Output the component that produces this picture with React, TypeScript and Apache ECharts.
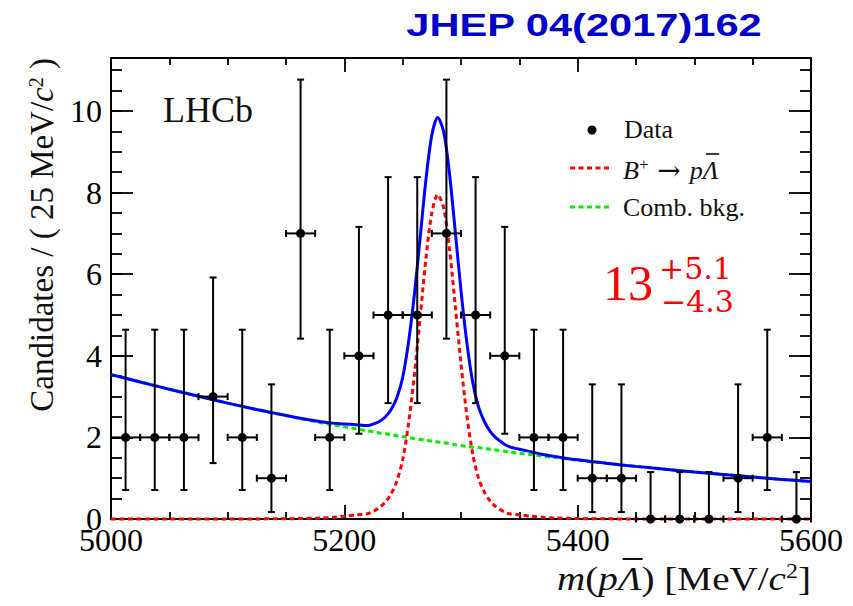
import React, { useEffect, useRef } from 'react';
import * as echarts from 'echarts';

// Binned candidates, 25 MeV/c^2 bins
const binCentres = [
  5012.5, 5037.5, 5062.5, 5087.5, 5112.5, 5137.5, 5162.5, 5187.5,
  5212.5, 5237.5, 5262.5, 5287.5, 5312.5, 5337.5, 5362.5, 5387.5,
  5412.5, 5437.5, 5462.5, 5487.5, 5512.5, 5537.5, 5562.5, 5587.5,
];
const binWidth = 25;
const candidates = [2, 2, 2, 3, 2, 1, 7, 2, 4, 5, 5, 7, 5, 4, 2, 2, 1, 1, 0, 0, 0, 1, 2, 0];
// Poisson interval edges for each bin
const errLower = [
  0.71, 0.71, 0.71, 1.37, 0.71, 0.17, 4.42, 0.71, 2.09, 2.84, 2.84, 4.42,
  2.84, 2.09, 0.71, 0.71, 0.17, 0.17, 0, 0, 0, 0.17, 0.71, 0,
];
const errUpper = [
  4.64, 4.64, 4.64, 5.92, 4.64, 3.3, 10.77, 4.64, 7.16, 8.38, 8.38, 10.77,
  8.38, 7.16, 4.64, 4.64, 3.3, 3.3, 1.15, 1.15, 1.15, 3.3, 4.64, 1.15,
];

// Fit components sampled along the mass axis
const curveMass = [
  5000, 5025, 5050, 5075, 5100, 5125, 5140, 5160, 5180, 5190,
  5200, 5210, 5220, 5225, 5230, 5235, 5240, 5245, 5250, 5255,
  5260, 5265, 5270, 5275, 5280, 5285, 5290, 5295, 5300, 5305,
  5310, 5315, 5320, 5325, 5330, 5340, 5350, 5360, 5370, 5380,
  5400, 5425, 5450, 5475, 5500, 5525, 5550, 5575, 5600,
];
const signalPdf = [
  0, 0, 0, 0, 0, 0.002, 0.005, 0.01, 0.025, 0.04,
  0.07, 0.1, 0.13, 0.19, 0.28, 0.41, 0.61, 0.93, 1.45, 2.33,
  3.52, 4.95, 6.4, 7.5, 7.95, 7.64, 6.65, 5.25, 3.8, 2.55,
  1.6, 1.0, 0.66, 0.44, 0.3, 0.14, 0.1, 0.07, 0.04, 0.025,
  0.01, 0.004, 0, 0, 0, 0, 0, 0, 0,
];
const combBkg = [
  3.54, 3.36, 3.18, 3.01, 2.84, 2.68, 2.59, 2.47, 2.36, 2.31,
  2.26, 2.21, 2.16, 2.14, 2.11, 2.09, 2.07, 2.04, 2.02, 2.0,
  1.97, 1.95, 1.93, 1.91, 1.89, 1.87, 1.85, 1.82, 1.8, 1.78,
  1.76, 1.75, 1.73, 1.71, 1.69, 1.65, 1.61, 1.58, 1.54, 1.51,
  1.44, 1.36, 1.29, 1.22, 1.15, 1.09, 1.03, 0.97, 0.92,
];

const xTicks = { min: 5000, max: 5600, major: 200, minorSplit: 4 };
const yTicks = { min: 0, max: 11.3, major: 2, minor: 0.5 };

const SERIF = 'Liberation Serif';
const ARROW_FONT = 'DejaVu Serif';
const INK = '#000';
const TEXT = '#111';

let measureCtx: CanvasRenderingContext2D | null = null;
function textWidth(text: string, size: number, italic = false, family = SERIF): number {
  if (!measureCtx) measureCtx = document.createElement('canvas').getContext('2d');
  if (!measureCtx) return text.length * size * 0.5;
  measureCtx.font = `${italic ? 'italic ' : ''}${size}px "${family}"`;
  return measureCtx.measureText(text).width;
}

function buildOption(): echarts.EChartsOption {
  const totalFit = combBkg.map((b, i) => b + signalPdf[i]);
  const points = binCentres.map((m, i) => [m, candidates[i], errLower[i], errUpper[i]]);

  const xCommon = (position: 'bottom' | 'top', labels: boolean) => ({
    type: 'value' as const,
    position,
    min: xTicks.min,
    max: xTicks.max,
    interval: xTicks.major,
    axisLine: { show: true, onZero: false, lineStyle: { color: INK, width: 2 } },
    axisTick: { show: true, inside: true, length: 14, lineStyle: { color: INK, width: 1.8 } },
    minorTick: { show: true, splitNumber: xTicks.minorSplit, length: 7, lineStyle: { color: INK, width: 1.8 } },
    splitLine: { show: false },
    minorSplitLine: { show: false },
    axisLabel: {
      show: labels,
      margin: 5,
      fontSize: 32,
      fontFamily: SERIF,
      color: INK,
      formatter: (v: number) => String(v),
    },
  });

  const yCommon = (position: 'left' | 'right', interval: number, len: number, line: boolean, labels: boolean) => ({
    type: 'value' as const,
    position,
    min: yTicks.min,
    max: yTicks.max,
    interval,
    axisLine: { show: line, onZero: false, lineStyle: { color: INK, width: 2 } },
    axisTick: { show: true, inside: true, length: len, lineStyle: { color: INK, width: 1.8 } },
    splitLine: { show: false },
    axisLabel: {
      show: labels,
      margin: 9,
      fontSize: 32,
      fontFamily: SERIF,
      color: INK,
      showMaxLabel: false,
      formatter: (v: number) => String(Math.round(v)),
    },
  });

  const dash = [5, 3.5];

  // legend entry for the signal: B+ -> p Lambda-bar, with a bar over the Lambda
  const legX = 623;
  const legSize = 26;
  const supSize = 17;
  const arrowSize = 28;
  const lamLegStart =
    legX +
    textWidth('B', legSize, true) +
    textWidth('+', supSize) +
    textWidth(' \u2192 ', arrowSize, false, ARROW_FONT) +
    textWidth('p', legSize, true);
  const lamLegW = textWidth('\u039B', legSize, true);

  // x-axis title, right-aligned at the frame edge and stretched horizontally
  const tSize = 34;
  const tStretch = 1.15;
  const tParts: [string, number, boolean][] = [
    ['m', tSize, true], ['(', tSize, false], ['p', tSize, true], ['\u039B', tSize, true],
    [') [MeV/', tSize, false], ['c', tSize, true], ['2', 21, false], [']', tSize, false],
  ];
  const tWidths = tParts.map(([s, z, it]) => textWidth(s, z, it));
  const tTotal = tWidths.reduce((a, b) => a + b, 0);
  const tRight = 811;
  const tLeft = tRight - tTotal * tStretch;
  const lamTitleStart = tLeft + (tWidths[0] + tWidths[1] + tWidths[2]) * tStretch;
  const lamTitleW = tWidths[3] * tStretch;

  return {
    animation: false,
    backgroundColor: '#fff',
    grid: { left: 111, right: 42, top: 58, bottom: 87, containLabel: false },
    xAxis: [xCommon('bottom', true), xCommon('top', false)],
    yAxis: [
      yCommon('left', yTicks.major, 22, true, true),
      yCommon('left', yTicks.minor, 11, false, false),
      yCommon('right', yTicks.major, 22, true, false),
      yCommon('right', yTicks.minor, 11, false, false),
    ],
    series: [
      {
        name: 'Comb. bkg.',
        type: 'line',
        data: curveMass.map((m, i) => [m, combBkg[i]]),
        showSymbol: false,
        smooth: 0.3,
        clip: false,
        lineStyle: { color: '#00ee00', width: 3, type: dash },
        z: 2,
      },
      {
        name: 'Signal',
        type: 'line',
        data: curveMass.map((m, i) => [m, signalPdf[i]]),
        showSymbol: false,
        smooth: 0.3,
        clip: false,
        lineStyle: { color: '#ff0000', width: 3, type: dash },
        z: 3,
      },
      {
        name: 'Total fit',
        type: 'line',
        data: curveMass.map((m, i) => [m, totalFit[i]]),
        showSymbol: false,
        smooth: 0.3,
        clip: false,
        lineStyle: { color: '#0000ff', width: 3 },
        z: 4,
      },
      {
        name: 'Data',
        type: 'custom',
        data: points,
        encode: { x: 0, y: 1 },
        clip: false,
        z: 5,
        renderItem: (_params: any, api: any) => {
          const m = api.value(0);
          const n = api.value(1);
          const lo = api.value(2);
          const hi = api.value(3);
          const c = api.coord([m, n]);
          const left = api.coord([m - binWidth / 2, n]);
          const right = api.coord([m + binWidth / 2, n]);
          const top = api.coord([m, hi]);
          const bot = api.coord([m, lo]);
          const st = { stroke: INK, lineWidth: 2 };
          const cap = 3.5;
          const seg = (x1: number, y1: number, x2: number, y2: number) => ({
            type: 'line',
            shape: { x1, y1, x2, y2 },
            style: st,
          });
          return {
            type: 'group',
            children: [
              seg(c[0], bot[1], c[0], top[1]),
              seg(c[0] - cap, top[1], c[0] + cap, top[1]),
              seg(c[0] - cap, bot[1], c[0] + cap, bot[1]),
              seg(left[0], c[1], right[0], c[1]),
              seg(left[0], c[1] - cap, left[0], c[1] + cap),
              seg(right[0], c[1] - cap, right[0], c[1] + cap),
              { type: 'circle', shape: { cx: c[0], cy: c[1], r: 4.5 }, style: { fill: INK } },
            ],
          };
        },
      } as any,
    ],
    graphic: [
      {
        type: 'text',
        x: 584,
        y: 25,
        scaleX: 1.3,
        style: {
          text: 'JHEP 04(2017)162',
          font: 'bold 32px "Liberation Sans", Arial, sans-serif',
          fill: '#0000c8',
          align: 'center',
          verticalAlign: 'middle',
        },
      },
      {
        type: 'text',
        x: 163,
        y: 110,
        style: {
          text: 'LHCb',
          font: `36px "${SERIF}"`,
          fill: TEXT,
          align: 'left',
          verticalAlign: 'middle',
        },
      },
      // legend
      { type: 'circle', shape: { cx: 592, cy: 130, r: 4.5 }, style: { fill: INK } },
      {
        type: 'text',
        x: 624,
        y: 129,
        style: { text: 'Data', font: `${legSize}px "${SERIF}"`, fill: TEXT, verticalAlign: 'middle' },
      },
      {
        type: 'line',
        shape: { x1: 570, y1: 168, x2: 612, y2: 168 },
        style: { stroke: '#ff0000', lineWidth: 3, lineDash: dash },
      },
      {
        type: 'text',
        x: legX,
        y: 170,
        style: {
          text: '{i|B}{s|+}{r| \u2192 }{i|p}{i|\u039B}',
          verticalAlign: 'middle',
          fill: TEXT,
          rich: {
            r: { fontFamily: ARROW_FONT, fontSize: arrowSize, fill: TEXT },
            i: { fontFamily: SERIF, fontSize: legSize, fontStyle: 'italic', fill: TEXT },
            s: { fontFamily: SERIF, fontSize: supSize, fill: TEXT, verticalAlign: 'top' },
          },
        },
      },
      {
        type: 'line',
        shape: { x1: lamLegStart + lamLegW * 0.2, y1: 154, x2: lamLegStart + lamLegW * 1.05, y2: 154 },
        style: { stroke: TEXT, lineWidth: 1.6 },
      },
      {
        type: 'line',
        shape: { x1: 570, y1: 207, x2: 612, y2: 207 },
        style: { stroke: '#00ee00', lineWidth: 3, lineDash: dash },
      },
      {
        type: 'text',
        x: 623,
        y: 207,
        style: { text: 'Comb. bkg.', font: `${legSize}px "${SERIF}"`, fill: TEXT, verticalAlign: 'middle' },
      },
      // fitted yield
      {
        type: 'text',
        x: 603,
        y: 283,
        style: { text: '13', font: `50px "${SERIF}"`, fill: '#ff0000', verticalAlign: 'middle' },
      },
      {
        type: 'text',
        x: 659,
        y: 268,
        style: { text: '+5.1', font: '30px "DejaVu Serif"', fill: '#ff0000', verticalAlign: 'middle' },
      },
      {
        type: 'text',
        x: 661,
        y: 301,
        style: { text: '\u22124.3', font: '30px "DejaVu Serif"', fill: '#ff0000', verticalAlign: 'middle' },
      },
      // axis titles
      {
        type: 'text',
        x: 42,
        y: 58,
        rotation: Math.PI / 2,
        style: {
          text: '{a|Candidates / ( 25 MeV/}{i|c}{s|2}{a| )}',
          align: 'right',
          verticalAlign: 'middle',
          fill: TEXT,
          rich: {
            a: { fontFamily: SERIF, fontSize: 33, fill: TEXT },
            i: { fontFamily: SERIF, fontSize: 33, fontStyle: 'italic', fill: TEXT },
            s: { fontFamily: SERIF, fontSize: 20, fill: TEXT, verticalAlign: 'top' },
          },
        },
      },
      {
        type: 'text',
        x: tRight,
        y: 578,
        scaleX: tStretch,
        style: {
          text: '{i|m}{a|(}{i|p}{i|\u039B}{a|) [MeV/}{i|c}{s|2}{a|]}',
          align: 'right',
          verticalAlign: 'middle',
          fill: TEXT,
          rich: {
            a: { fontFamily: SERIF, fontSize: tSize, fill: TEXT },
            i: { fontFamily: SERIF, fontSize: tSize, fontStyle: 'italic', fill: TEXT },
            s: { fontFamily: SERIF, fontSize: 21, fill: TEXT, verticalAlign: 'top' },
          },
        },
      },
      {
        type: 'line',
        shape: {
          x1: lamTitleStart + lamTitleW * 0.2,
          y1: 559,
          x2: lamTitleStart + lamTitleW * 1.05,
          y2: 559,
        },
        style: { stroke: TEXT, lineWidth: 2 },
      },
    ],
  } as echarts.EChartsOption;
}

export default function App() {
  const ref = useRef<HTMLDivElement>(null);
  useEffect(() => {
    document.body.style.margin = '0';
    const chart = echarts.init(ref.current!, null, { renderer: 'svg' });
    chart.setOption(buildOption());
    return () => chart.dispose();
  }, []);
  return <div ref={ref} style={{ width: 853, height: 606 }} />;
}
